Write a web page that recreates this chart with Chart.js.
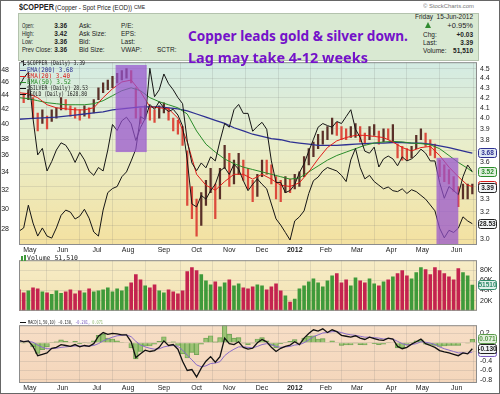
<!DOCTYPE html>
<html>
<head>
<meta charset="utf-8">
<script src="https://cdn.jsdelivr.net/npm/chart.js@4.4.1/dist/chart.umd.min.js"></script>
<style>
  body { margin: 0; width: 500px; height: 394px; overflow: hidden; background: #fff; position: relative;
         font-family: "Liberation Sans", Arial, sans-serif; color: #222; }
  #frame { position: absolute; left: 0; top: 0; width: 498px; height: 392px; border: 1px solid #666; z-index: 9; }
  canvas { position: absolute; left: 0; }
  .t { position: absolute; white-space: nowrap; line-height: 1; transform-origin: 0 50%; z-index: 4; }
  #head { position: absolute; left: 18px; top: 13px; width: 459px; height: 46px; background: #d9e9d2; border: 1px solid #b3c2ad; }
  .h { font-size: 6.5px; }
  .b { font-weight: bold; }
  .note { color: #7412c9; font-family: "Noto Sans", sans-serif; font-weight: bold; font-size: 14px; }
  .lg { font-family: "DejaVu Sans Mono", monospace; font-size: 6.5px; }
  .ico { position: absolute; z-index: 4; }
</style>
</head>
<body>
<div id="frame"></div>

<div class="t b" style="left:19px;top:3px;font-size:9px" data-w="35">$COPPER</div>
<div class="t" style="left:55px;top:4.5px;font-size:6.5px" data-w="77">(Copper - Spot Price (EOD))</div>
<div class="t" style="left:134px;top:5px;font-size:5px">CME</div>
<div class="t" style="left:423px;top:3.5px;font-size:5px;color:#777" data-w="51">© StockCharts.com</div>

<div id="head"></div>
<div class="t h" style="left:22px;top:22.7px" data-w="12">Open:</div>
<div class="t h" style="left:22px;top:30.7px" data-w="12">High:</div>
<div class="t h" style="left:22px;top:38.7px" data-w="11">Low:</div>
<div class="t h" style="left:22px;top:46.7px" data-w="30">Prev Close:</div>
<div class="t h b" style="right:433px;top:22.7px">3.36</div>
<div class="t h b" style="right:433px;top:30.7px">3.42</div>
<div class="t h b" style="right:433px;top:38.7px">3.36</div>
<div class="t h b" style="right:433px;top:46.7px">3.36</div>
<div class="t h" style="left:79px;top:22.7px">Ask:</div>
<div class="t h" style="left:79px;top:30.7px">Ask Size:</div>
<div class="t h" style="left:79px;top:38.7px">Bid:</div>
<div class="t h" style="left:79px;top:46.7px">Bid Size:</div>
<div class="t h" style="left:121px;top:22.7px">P/E:</div>
<div class="t h" style="left:121px;top:30.7px">EPS:</div>
<div class="t h" style="left:121px;top:38.7px">Last:</div>
<div class="t h" style="left:121px;top:46.7px">VWAP:</div>
<div class="t h" style="left:157px;top:46.7px">SCTR:</div>

<div class="t h" style="left:415px;top:13.7px" data-w="58">Friday&nbsp; 15-Jun-2012</div>
<div class="ico" style="left:425px;top:22px;width:0;height:0;border-left:3.5px solid transparent;border-right:3.5px solid transparent;border-bottom:6px solid #2f8a2f"></div>
<div class="t" style="right:27px;top:22px;font-size:7.5px">+0.95%</div>
<div class="t h" style="left:423px;top:31.7px">Chg:</div>
<div class="t h b" style="right:27px;top:31.7px">+0.03</div>
<div class="t h" style="left:423px;top:39.7px">Last:</div>
<div class="t h b" style="right:27px;top:39.7px">3.39</div>
<div class="t h" style="left:423px;top:47.7px">Volume:</div>
<div class="t h b" style="right:27px;top:47.7px">51,510</div>

<canvas id="main" width="500" height="200" style="top:55px"></canvas>
<canvas id="vol" width="500" height="65" style="top:253px"></canvas>
<canvas id="macd" width="500" height="76" style="top:318px"></canvas>

<div class="t note" style="left:188px;top:29.3px;z-index:6" data-w="220">Copper leads gold &amp; silver down.</div>
<div class="t note" style="left:188px;top:50.9px;z-index:6" data-w="180">Lag may take 4-12 weeks</div>

<!-- legend of the price panel -->
<div class="ico" style="left:23px;top:60px;width:1px;height:6px;background:#333"></div>
<div class="ico" style="left:21px;top:61px;width:2px;height:1px;background:#333"></div>
<div class="ico" style="left:24px;top:64px;width:2px;height:1px;background:#333"></div>
<div class="t lg" style="left:27px;top:59.8px" data-w="58">$COPPER (Daily) 3.39</div>
<div class="ico" style="left:20px;top:69.5px;width:6px;height:1.5px;background:#2e3192"></div>
<div class="t lg" style="left:27px;top:66.8px;color:#2e3192" data-w="46">EMA(200) 3.68</div>
<div class="ico" style="left:20px;top:75.5px;width:6px;height:1.5px;background:#e0201c"></div>
<div class="t lg" style="left:27px;top:72.8px;color:#d81c18" data-w="43">EMA(20) 3.40</div>
<div class="ico" style="left:20px;top:81.5px;width:6px;height:1.5px;background:#2a8c2a"></div>
<div class="t lg" style="left:27px;top:78.8px;color:#2a8c2a" data-w="44">EMA(50) 3.52</div>
<div class="ico" style="left:20px;top:87.5px;width:6px;height:1.5px;background:#111"></div>
<div class="t lg" style="left:27px;top:84.8px" data-w="61">$SILVER (Daily) 28.53</div>
<div class="ico" style="left:20px;top:93.5px;width:6px;height:1.5px;background:#111"></div>
<div class="t lg" style="left:27px;top:90.8px" data-w="60">$GOLD (Daily) 1628.80</div>

<div class="ico" style="left:21px;top:256px;width:2px;height:5px;background:#3f9a3a"></div>
<div class="ico" style="left:24px;top:255px;width:2px;height:6px;background:#3f9a3a"></div>
<div class="t lg" style="left:27px;top:255.3px" data-w="51">Volume 51,510</div>

<div class="ico" style="left:20px;top:321.5px;width:6px;height:1.5px;background:#111"></div>
<div class="t lg" style="left:28px;top:320px;font-size:5.5px" data-w="75">MACD(1,50,10) -0.130, <span style="color:#7a5cc0">-0.201,</span> <span style="color:#8fb86c">0.071</span></div>

<script>
// sampled every 3 trading days, day 0 = 21-Apr-2011, last day = 15-Jun-2012
const DAY_STEP = 3;
const EMA_STEP = 6;
const LAST_DAY = 291;

const monthDays = [7, 28, 50, 70, 93, 114, 135, 156, 177, 197, 217, 239, 259, 281];
const monthLabels = ['May', 'Jun', 'Jul', 'Aug', 'Sep', 'Oct', 'Nov', 'Dec', '2012', 'Feb', 'Mar', 'Apr', 'May', 'Jun'];

// $COPPER high / low of each 3-day span, u = up, d = down
const copperHi = [4.28, 4.24, 4.28, 4.20, 4.05, 4.08, 4.02, 4.08, 4.10, 4.20,
  4.18, 4.12, 4.10, 4.08, 4.12, 4.10, 4.18, 4.30, 4.35, 4.38,
  4.42, 4.45, 4.48, 4.50, 4.48, 4.30, 4.10, 4.12, 4.10, 4.08,
  4.12, 4.15, 4.10, 4.00, 3.98, 3.92, 3.70, 3.40, 3.30, 3.35,
  3.45, 3.55, 3.42, 3.55, 3.75, 3.68, 3.62, 3.68, 3.62, 3.55,
  3.45, 3.50, 3.62, 3.62, 3.58, 3.48, 3.45, 3.48, 3.46, 3.50,
  3.52, 3.65, 3.72, 3.78, 3.85, 3.88, 3.92, 4.00, 3.96, 3.92,
  3.90, 3.92, 3.95, 3.92, 3.86, 3.92, 3.94, 3.88, 3.90, 3.90,
  3.94, 3.76, 3.74, 3.72, 3.74, 3.84, 3.90, 3.86, 3.80, 3.76,
  3.62, 3.58, 3.54, 3.48, 3.40, 3.42, 3.42, 3.42];
const copperLo = [4.20, 4.15, 4.18, 4.00, 3.88, 3.95, 3.90, 3.97, 4.00, 4.08,
  4.08, 4.02, 4.00, 3.98, 4.02, 4.00, 4.05, 4.18, 4.25, 4.28,
  4.30, 4.35, 4.38, 4.40, 4.35, 4.00, 3.95, 4.00, 3.98, 3.96,
  4.00, 4.05, 3.98, 3.88, 3.85, 3.75, 3.25, 3.15, 3.02, 3.10,
  3.25, 3.35, 3.15, 3.30, 3.55, 3.40, 3.42, 3.50, 3.45, 3.38,
  3.28, 3.32, 3.48, 3.50, 3.42, 3.30, 3.28, 3.35, 3.35, 3.38,
  3.40, 3.48, 3.58, 3.65, 3.72, 3.76, 3.80, 3.85, 3.84, 3.80,
  3.80, 3.82, 3.82, 3.78, 3.76, 3.80, 3.84, 3.76, 3.78, 3.80,
  3.78, 3.64, 3.62, 3.62, 3.64, 3.72, 3.80, 3.74, 3.66, 3.64,
  3.48, 3.44, 3.42, 3.36, 3.24, 3.30, 3.30, 3.34];
const moves = 'ddudduduuu' + 'dddduduuuu' + 'uuuudddudd' + 'uudddddddu' + 'uuduuduudd' +
  'duuddddudu' + 'uuuuuuuudd' + 'duudduudud' + 'uddduuuddd' + 'ddddduuu';
const copperLast = 3.39;

const silver = [45.3, 46.7, 47.6, 40.7, 36.0, 36.8, 34.1, 35.2, 36.6, 37.5,
  37.2, 36.3, 35.1, 36.3, 35.4, 34.1, 33.6, 34.5, 34.1, 36.6,
  39.9, 39.1, 40.4, 40.9, 40.0, 37.8, 39.5, 40.7, 42.7, 42.0,
  43.1, 42.2, 41.7, 42.0, 41.2, 39.7, 35.4, 30.5, 30.2, 31.4,
  31.0, 31.9, 32.6, 34.1, 34.5, 33.7, 34.9, 34.3, 33.0, 31.9,
  32.6, 33.2, 32.6, 32.1, 30.5, 29.0, 28.4, 27.7, 27.0, 28.8,
  29.2, 29.8, 31.6, 33.0, 33.4, 34.1, 34.5, 34.3, 34.1, 33.6,
  32.9, 35.4, 36.8, 34.5, 33.2, 33.6, 32.9, 32.5, 32.1, 32.3,
  31.9, 31.8, 32.1, 31.6, 32.0, 31.8, 31.4, 31.0, 30.4, 29.8,
  28.1, 27.2, 27.9, 27.7, 28.1, 29.2, 28.8, 28.53];

const gold = [1482, 1490, 1546, 1502, 1470, 1490, 1470, 1465, 1490, 1521,
  1534, 1529, 1512, 1519, 1536, 1514, 1480, 1470, 1534, 1577,
  1587, 1592, 1616, 1628, 1655, 1684, 1764, 1757, 1883, 1813,
  1830, 1869, 1845, 1830, 1811, 1796, 1704, 1650, 1631, 1650,
  1638, 1665, 1655, 1704, 1747, 1738, 1781, 1794, 1772, 1772,
  1728, 1740, 1750, 1733, 1655, 1602, 1602, 1577, 1582, 1597,
  1626, 1648, 1679, 1708, 1738, 1747, 1742, 1738, 1752, 1747,
  1764, 1781, 1733, 1713, 1679, 1674, 1689, 1640, 1660, 1667,
  1660, 1643, 1665, 1655, 1660, 1670, 1684, 1674, 1655, 1655,
  1602, 1563, 1592, 1582, 1572, 1616, 1645, 1628.8];

// moving averages, one value every 6 trading days
const ema20 = [4.25, 4.24, 4.20, 4.13, 4.10, 4.09, 4.08, 4.08, 4.10, 4.20,
  4.29, 4.36, 4.38, 4.26, 4.11, 4.10, 4.09, 4.00, 3.78, 3.50,
  3.41, 3.37, 3.44, 3.50, 3.50, 3.46, 3.50, 3.46, 3.41, 3.40,
  3.43, 3.52, 3.63, 3.73, 3.79, 3.82, 3.84, 3.84, 3.83, 3.82,
  3.78, 3.73, 3.70, 3.73, 3.74, 3.66, 3.56, 3.48, 3.41, 3.40];
const ema50 = [4.20, 4.19, 4.17, 4.15, 4.14, 4.13, 4.13, 4.13, 4.14, 4.17,
  4.22, 4.27, 4.30, 4.27, 4.20, 4.16, 4.13, 4.10, 4.04, 3.88,
  3.76, 3.69, 3.63, 3.59, 3.56, 3.54, 3.52, 3.50, 3.48, 3.46,
  3.47, 3.52, 3.57, 3.62, 3.66, 3.69, 3.72, 3.75, 3.77, 3.78,
  3.785, 3.78, 3.77, 3.765, 3.755, 3.72, 3.66, 3.60, 3.55, 3.52];
const ema200 = [3.99, 3.995, 4.00, 4.005, 4.01, 4.02, 4.03, 4.04, 4.05, 4.06,
  4.08, 4.09, 4.10, 4.11, 4.11, 4.11, 4.10, 4.09, 4.07, 4.04,
  4.01, 3.98, 3.95, 3.91, 3.88, 3.85, 3.83, 3.81, 3.80, 3.78,
  3.77, 3.76, 3.75, 3.75, 3.75, 3.755, 3.76, 3.765, 3.77, 3.77,
  3.775, 3.775, 3.77, 3.77, 3.76, 3.745, 3.73, 3.71, 3.69, 3.68];

// volume in thousands
const volumeK = [42, 36, 40, 46, 44, 38, 36, 33, 40, 35,
  38, 42, 34, 40, 36, 44, 38, 40, 42, 46,
  38, 44, 40, 48, 56, 72, 62, 50, 46, 52,
  40, 36, 42, 38, 34, 40, 78, 86, 80, 72,
  60, 52, 58, 48, 56, 62, 50, 54, 46, 44,
  48, 52, 50, 42, 48, 54, 40, 30, 18, 24,
  44, 50, 58, 64, 56, 48, 60, 70, 74, 56,
  62, 50, 66, 60, 56, 64, 54, 50, 58, 62,
  68, 74, 80, 70, 64, 76, 86, 82, 72, 86,
  80, 74, 68, 62, 84, 76, 70, 51.51];

const macd = [0.05, 0.02, 0.04, -0.08, -0.28, -0.25, -0.22, -0.12, -0.10, -0.04,
  -0.06, -0.08, -0.04, -0.09, -0.06, -0.08, -0.02, 0.14, 0.22, 0.18,
  0.20, 0.19, 0.17, 0.17, 0.02, -0.32, -0.24, -0.16, -0.19, -0.17,
  -0.10, 0.04, -0.06, -0.04, -0.14, -0.40, -0.60, -0.58, -0.74, -0.55,
  -0.40, -0.30, -0.42, -0.30, 0.10, -0.02, -0.04, 0.02, -0.10, -0.14,
  -0.12, 0.00, 0.07, 0.02, -0.10, -0.19, -0.12, -0.08, -0.05, 0.02,
  -0.04, 0.10, 0.20, 0.28, 0.25, 0.30, 0.22, 0.28, 0.24, 0.16,
  0.14, 0.12, 0.15, 0.10, 0.07, 0.12, 0.09, 0.06, 0.05, 0.10,
  0.08, -0.08, -0.13, -0.10, -0.03, 0.02, 0.08, -0.02, -0.06, -0.10,
  -0.17, -0.20, -0.22, -0.25, -0.28, -0.22, -0.24, -0.13];
const signal = [0.03, 0.03, 0.03, 0.01, -0.05, -0.10, -0.13, -0.13, -0.12, -0.10,
  -0.09, -0.08, -0.07, -0.07, -0.07, -0.07, -0.06, -0.02, 0.04, 0.08,
  0.12, 0.15, 0.16, 0.17, 0.13, 0.03, -0.05, -0.09, -0.12, -0.14,
  -0.13, -0.09, -0.07, -0.06, -0.08, -0.16, -0.27, -0.37, -0.48, -0.52,
  -0.50, -0.45, -0.44, -0.41, -0.28, -0.20, -0.14, -0.09, -0.09, -0.10,
  -0.11, -0.08, -0.04, -0.02, -0.04, -0.08, -0.10, -0.09, -0.08, -0.05,
  -0.04, 0.00, 0.06, 0.13, 0.17, 0.21, 0.22, 0.24, 0.24, 0.22,
  0.19, 0.17, 0.16, 0.14, 0.12, 0.12, 0.11, 0.10, 0.08, 0.09,
  0.08, 0.03, -0.02, -0.05, -0.04, -0.02, 0.02, 0.01, -0.01, -0.04,
  -0.09, -0.13, -0.16, -0.19, -0.22, -0.22, -0.23, -0.201];
const hist = [0.02, -0.01, 0.01, -0.09, -0.23, -0.15, -0.09, 0.01, 0.02, 0.06,
  0.03, 0.00, 0.03, -0.02, 0.01, -0.01, 0.04, 0.16, 0.18, 0.10,
  0.08, 0.04, 0.01, 0.00, -0.11, -0.35, -0.19, -0.07, -0.07, -0.03,
  0.03, 0.13, 0.01, 0.02, -0.06, -0.24, -0.33, -0.21, -0.26, -0.03,
  0.10, 0.15, 0.02, 0.11, 0.38, 0.18, 0.10, 0.11, -0.01, -0.04,
  -0.01, 0.08, 0.11, 0.04, -0.06, -0.11, -0.02, 0.01, 0.03, 0.07,
  0.00, 0.10, 0.14, 0.15, 0.08, 0.09, 0.00, 0.04, 0.00, -0.06,
  -0.05, -0.05, -0.01, -0.04, -0.05, 0.00, -0.02, -0.04, -0.03, 0.01,
  0.00, -0.11, -0.11, -0.05, 0.01, 0.04, 0.06, -0.03, -0.05, -0.06,
  -0.08, -0.07, -0.06, -0.06, -0.06, 0.00, -0.01, 0.071];

// highlighted periods (trading day range, copper price range)
const boxFrom = [62, 268];
const boxTo = [82, 282];
const boxTop = [4.54, 3.64];
const boxBottom = [3.69, 2.95];

Chart.defaults.font.family = '"Liberation Sans", Arial, sans-serif';
Chart.defaults.color = '#222';

const days = copperHi.map((_, i) => i * DAY_STEP);
const emaDays = ema20.map((_, k) => Math.min(k * EMA_STEP, LAST_DAY));
const pts = (arr, xs) => arr.map((v, i) => ({ x: xs[i], y: v }));
const UP = '#3f9a3a', DOWN = '#c4234f';
const faint = 'rgba(110,110,110,0.16)';

function xAxis(labelHeight) {
  return {
    type: 'linear', min: 0, max: 294, offset: false,
    afterBuildTicks: s => { s.ticks = monthDays.map(v => ({ value: v })); },
    afterFit: s => { s.height = labelHeight; },
    ticks: {
      display: labelHeight > 0, autoSkip: false, maxRotation: 0, padding: 1, color: '#222',
      font: c => ({ size: 7, weight: monthLabels[c.index] === '2012' ? 'bold' : 'normal' }),
      callback: (v, i) => monthLabels[i]
    },
    grid: { color: faint, drawTicks: false },
    border: { display: false }
  };
}

function panel(stops) {
  return {
    id: 'panel',
    beforeDraw(chart) {
      const { ctx, chartArea: a } = chart;
      const g = ctx.createLinearGradient(0, a.top, 0, a.bottom);
      stops.forEach(([p, c]) => g.addColorStop(p, c));
      ctx.save();
      ctx.fillStyle = g;
      ctx.fillRect(a.left, a.top, a.right - a.left, a.bottom - a.top);
      ctx.restore();
    },
    afterDraw(chart) {
      const { ctx, chartArea: a } = chart;
      ctx.save();
      ctx.strokeStyle = '#8c8c8c';
      ctx.lineWidth = 1;
      ctx.strokeRect(a.left + 0.5, a.top + 0.5, a.right - a.left - 1, a.bottom - a.top - 1);
      ctx.restore();
    }
  };
}

// boxed last values on the right axis
function tags(list) {
  return {
    id: 'tags',
    afterDraw(chart) {
      const { ctx, chartArea: a } = chart;
      ctx.save();
      ctx.font = 'bold 6.5px "Liberation Sans"';
      ctx.textBaseline = 'middle';
      ctx.textAlign = 'center';
      list.forEach(t => {
        const y = chart.scales[t.axis].getPixelForValue(t.value);
        const x = a.right + 1.5;
        ctx.fillStyle = t.fill || '#f2f5f7';
        ctx.strokeStyle = t.color;
        ctx.lineWidth = 1;
        ctx.beginPath();
        ctx.roundRect(x, Math.round(y) - 4.5, 18, 9, 2);
        ctx.fill();
        ctx.stroke();
        ctx.fillStyle = t.text || t.color;
        ctx.fillText(t.label, x + 9, Math.round(y) + 0.5);
      });
      ctx.restore();
    }
  };
}

const zones = {
  id: 'zones',
  afterDatasetsDraw(chart) {
    const { ctx, chartArea: a, scales: { x, yCu } } = chart;
    ctx.save();
    ctx.beginPath();
    ctx.rect(a.left, a.top, a.right - a.left, a.bottom - a.top);
    ctx.clip();
    ctx.fillStyle = 'rgba(150, 82, 206, 0.72)';
    boxFrom.forEach((f, i) => {
      const x1 = x.getPixelForValue(f), x2 = x.getPixelForValue(boxTo[i]);
      const y1 = yCu.getPixelForValue(boxTop[i]), y2 = yCu.getPixelForValue(boxBottom[i]);
      ctx.fillRect(x1, y1, x2 - x1, y2 - y1);
    });
    ctx.restore();
  }
};

const line = (label, data, color, axis, order, width) => ({
  type: 'line', label, data, yAxisID: axis, order,
  borderColor: color, borderWidth: width || 1, pointRadius: 0, tension: 0
});

new Chart(document.getElementById('main'), {
  type: 'bar',
  data: {
    datasets: [
      line('$SILVER', pts(silver, days), '#151515', 'ySi', 1),
      line('$GOLD', pts(gold, days), '#151515', 'yAu', 1),
      line('EMA(20)', pts(ema20, emaDays), '#e0201c', 'yCu', 2),
      line('EMA(50)', pts(ema50, emaDays), '#2a8c2a', 'yCu', 2),
      line('EMA(200)', pts(ema200, emaDays), '#2e3192', 'yCu', 2, 1.3),
      {
        type: 'bar', label: '$COPPER', yAxisID: 'yCu', order: 3,
        data: days.map((d, i) => ({ x: d, y: [copperLo[i], copperHi[i]] })),
        backgroundColor: moves.split('').map(m => m === 'u' ? '#5a3028' : '#dc4a3c'),
        barThickness: 1.6
      }
    ]
  },
  options: {
    responsive: false, animation: false, events: [],
    layout: { padding: { top: 5 } },
    plugins: { legend: { display: false }, tooltip: { enabled: false } },
    scales: {
      x: xAxis(10),
      ySi: {
        type: 'logarithmic', position: 'left', min: 26.55, max: 49.25,
        afterFit: s => { s.width = 19; },
        afterBuildTicks: s => { s.ticks = [28, 30, 32, 34, 36, 38, 40, 42, 44, 46, 48].map(v => ({ value: v })); },
        ticks: { font: { size: 7 }, padding: 2, callback: v => v },
        grid: { display: false }, border: { display: false }
      },
      yCu: {
        type: 'logarithmic', position: 'right', min: 2.958, max: 4.57,
        afterFit: s => { s.width = 23; },
        afterBuildTicks: s => {
          s.ticks = [3.0, 3.1, 3.2, 3.3, 3.4, 3.5, 3.6, 3.7, 3.8, 3.9, 4.0, 4.1, 4.2, 4.3, 4.4, 4.5].map(v => ({ value: v }));
        },
        ticks: { font: { size: 7 }, padding: 3, callback: v => v.toFixed(1) },
        grid: { color: faint, drawTicks: false }, border: { display: false }
      },
      yAu: { type: 'linear', display: false, min: 1448, max: 1898 }
    }
  },
  plugins: [
    panel([[0, '#d3ebe3'], [0.45, '#e9eecb'], [1, '#f4e1a0']]),
    zones,
    tags([
      { axis: 'yCu', value: ema200[ema200.length - 1], label: ema200[ema200.length - 1].toFixed(2), color: '#2e3192', fill: '#dfe8f4' },
      { axis: 'yCu', value: ema50[ema50.length - 1], label: ema50[ema50.length - 1].toFixed(2), color: '#2a8c2a', fill: '#e2f0e0' },
      { axis: 'yCu', value: ema20[ema20.length - 1], label: ema20[ema20.length - 1].toFixed(2), color: '#d81c18' },
      { axis: 'yCu', value: copperLast, label: copperLast.toFixed(2), color: '#222' },
      { axis: 'ySi', value: silver[silver.length - 1], label: silver[silver.length - 1].toFixed(2), color: '#222' }
    ])
  ]
});

new Chart(document.getElementById('vol'), {
  type: 'bar',
  data: {
    datasets: [{
      label: 'Volume', data: pts(volumeK.map(v => v * 1000), days),
      backgroundColor: moves.split('').map(m => m === 'u' ? UP : DOWN),
      barPercentage: 0.78, categoryPercentage: 1
    }]
  },
  options: {
    responsive: false, animation: false, events: [],
    layout: { padding: { left: 19 } },
    plugins: { legend: { display: false }, tooltip: { enabled: false } },
    scales: {
      x: xAxis(0),
      y: {
        position: 'right', min: 0, max: 100000,
        afterFit: s => { s.width = 23; },
        afterBuildTicks: s => { s.ticks = [20000, 40000, 60000, 80000].map(v => ({ value: v })); },
        ticks: { font: { size: 7 }, padding: 3, callback: v => (v / 1000) + 'K' },
        grid: { color: faint, drawTicks: false }, border: { display: false }
      }
    }
  },
  plugins: [
    panel([[0, '#f7ecc6'], [1, '#f2e2b2']]),
    tags([{ axis: 'y', value: volumeK[volumeK.length - 1] * 1000, label: String(Math.round(volumeK[volumeK.length - 1] * 1000)), color: '#2f8a6a', fill: '#e0f0ea' }])
  ]
});

new Chart(document.getElementById('macd'), {
  type: 'bar',
  data: {
    datasets: [
      line('MACD', pts(macd, days), '#111', 'y', 1, 1.3),
      line('Signal', pts(signal, days), '#8a6cc8', 'y', 2),
      {
        type: 'bar', label: 'Histogram', order: 3, data: pts(hist, days),
        backgroundColor: 'rgba(128,186,92,0.75)', borderColor: 'rgba(80,140,60,0.8)', borderWidth: 0.5,
        barPercentage: 1, categoryPercentage: 1
      }
    ]
  },
  options: {
    responsive: false, animation: false, events: [],
    layout: { padding: { left: 19 } },
    plugins: { legend: { display: false }, tooltip: { enabled: false } },
    scales: {
      x: xAxis(11),
      y: {
        position: 'right', min: -0.871, max: 0.379,
        afterFit: s => { s.width = 23; },
        afterBuildTicks: s => { s.ticks = [0.2, 0, -0.2, -0.4, -0.6, -0.8].map(v => ({ value: v })); },
        ticks: { font: { size: 7 }, padding: 3, callback: v => v.toFixed(1) },
        grid: { color: faint, drawTicks: false }, border: { display: false }
      }
    }
  },
  plugins: [
    panel([[0, '#f7dec6'], [1, '#f4d6bb']]),
    tags([
      { axis: 'y', value: hist[hist.length - 1], label: hist[hist.length - 1].toFixed(3), color: '#5a9a4a', fill: '#e4f1de' },
      { axis: 'y', value: signal[signal.length - 1], label: signal[signal.length - 1].toFixed(3), color: '#7a5cc0' },
      { axis: 'y', value: macd[macd.length - 1], label: macd[macd.length - 1].toFixed(3), color: '#222' }
    ])
  ]
});

// squeeze text to the widths seen on the original
document.querySelectorAll('[data-w]').forEach(el => {
  const w = el.getBoundingClientRect().width;
  if (w > 0) el.style.transform = 'scaleX(' + (el.dataset.w / w).toFixed(3) + ')';
});
</script>
</body>
</html>
